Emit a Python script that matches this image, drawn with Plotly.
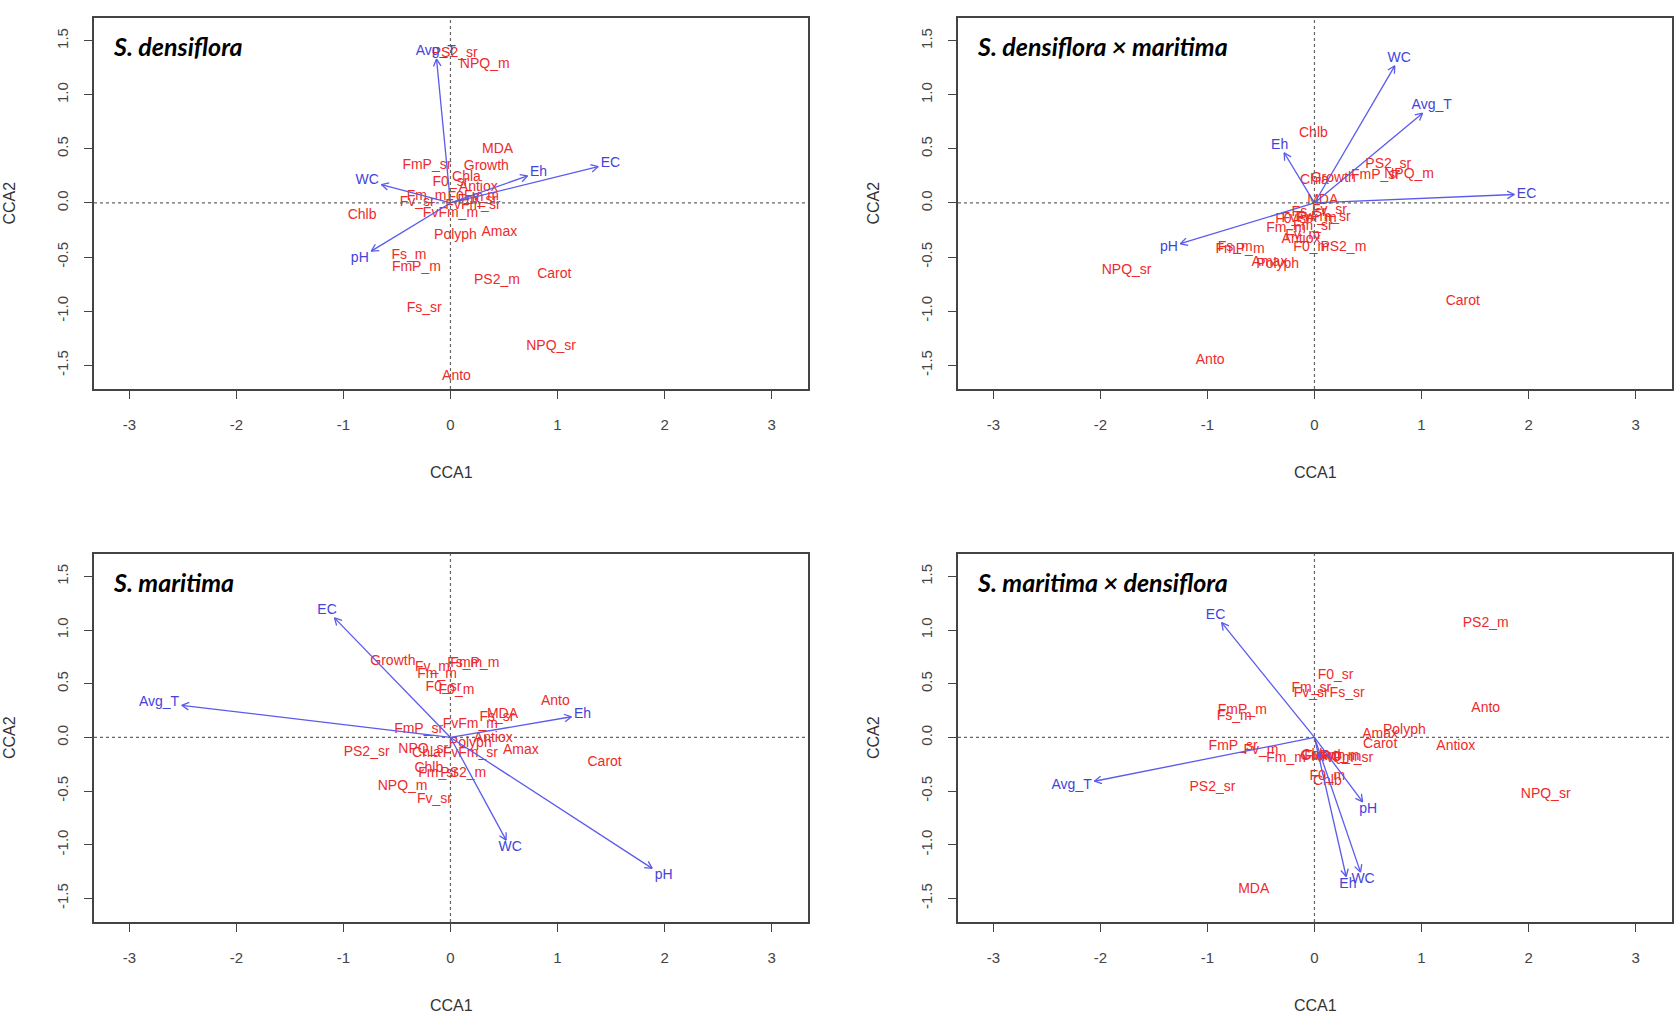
import numpy as np
import plotly.graph_objects as go

# ---------------- data ----------------
VARS = ["Growth", "Amax", "Chla", "Chlb", "Carot", "Anto", "Polyph", "Antiox", "MDA",
        "F0_m", "F0_sr", "Fm_m", "Fm_sr", "Fs_m", "Fs_sr", "Fv_m", "Fv_sr",
        "FmP_m", "FmP_sr", "FvFm_m", "FvFm_sr", "PS2_m", "PS2_sr", "NPQ_m", "NPQ_sr"]
ENV = ["Avg_T", "EC", "Eh", "WC", "pH"]

PANEL_TITLES = ["S. densiflora", "S. densiflora × maritima",
                "S. maritima", "S. maritima × densiflora"]

X_TICKS = [-3, -2, -1, 0, 1, 2, 3]
Y_TICKS = [-1.5, -1.0, -0.5, 0.0, 0.5, 1.0, 1.5]

# S. densiflora
dens_sp_x = [0.335, 0.456, 0.15, -0.826, 0.97, 0.056, 0.047, 0.26, 0.44,
             0.14, 0.0, -0.224, 0.25, -0.387, -0.245, 0.29, -0.31,
             -0.318, -0.22, 0.0, 0.21, 0.434, 0.04, 0.32, 0.94]
dens_sp_y = [0.34, -0.274, 0.24, -0.118, -0.657, -1.60, -0.305, 0.146, 0.49,
             0.047, 0.19, 0.06, 0.02, -0.49, -0.975, 0.06, 0.0,
             -0.595, 0.35, -0.10, -0.025, -0.717, 1.38, 1.28, -1.33]
dens_env_x = [-0.13, 1.38, 0.72, -0.645, -0.74]
dens_env_y = [1.33, 0.336, 0.25, 0.17, -0.445]

# S. densiflora x maritima
dxm_sp_x = [0.176, -0.42, 0.0, -0.01, 1.386, -0.974, -0.343, -0.125, 0.077,
            -0.03, -0.2, -0.265, -0.016, -0.74, -0.05, -0.11, 0.14,
            -0.695, 0.57, -0.05, 0.08, 0.27, 0.69, 0.884, -1.755]
dxm_sp_y = [0.224, -0.555, 0.21, 0.64, -0.913, -1.458, -0.57, -0.34, 0.022,
            -0.41, -0.15, -0.24, -0.22, -0.415, -0.085, -0.30, -0.068,
            -0.43, 0.255, -0.14, -0.13, -0.414, 0.355, 0.265, -0.626]
dxm_env_x = [1.01, 1.867, -0.283, 0.75, -1.253]
dxm_env_y = [0.83, 0.078, 0.464, 1.268, -0.377]

# S. maritima
mar_sp_x = [-0.538, 0.658, -0.224, -0.202, 1.44, 0.98, 0.185, 0.40, 0.486,
            0.056, -0.065, -0.125, -0.116, 0.133, 0.434, -0.168, -0.15,
            0.228, -0.297, 0.185, 0.185, 0.12, -0.783, -0.447, -0.254]
mar_sp_y = [0.71, -0.118, -0.15, -0.287, -0.234, 0.336, -0.056, -0.01, 0.218,
            0.442, 0.467, 0.586, -0.336, 0.69, 0.187, 0.648, -0.576,
            0.685, 0.072, 0.118, -0.146, -0.336, -0.14, -0.461, -0.109]
mar_env_x = [-2.51, -1.084, 1.13, 0.52, 1.884]
mar_env_y = [0.30, 1.115, 0.193, -0.957, -1.22]

# S. maritima x densiflora
mxd_sp_x = [0.077, 0.614, 0.013, 0.12, 0.614, 1.6, 0.84, 1.32, -0.567,
            0.12, 0.197, -0.266, -0.03, -0.75, 0.305, -0.5, -0.03,
            -0.674, -0.76, 0.163, 0.29, 1.6, -0.953, 0.206, 2.16]
mxd_sp_y = [-0.174, 0.028, -0.165, -0.41, -0.07, 0.27, 0.068, -0.08, -1.42,
            -0.36, 0.576, -0.2, 0.458, 0.2, 0.41, -0.118, 0.41,
            0.255, -0.087, -0.18, -0.196, 1.06, -0.467, -0.187, -0.53]
mxd_env_x = [-2.056, -0.867, 0.296, 0.43, 0.45]
mxd_env_y = [-0.408, 1.07, -1.296, -1.255, -0.60]

PANELS = [
    (dens_sp_x, dens_sp_y, dens_env_x, dens_env_y),
    (dxm_sp_x, dxm_sp_y, dxm_env_x, dxm_env_y),
    (mar_sp_x, mar_sp_y, mar_env_x, mar_env_y),
    (mxd_sp_x, mxd_sp_y, mxd_env_x, mxd_env_y),
]

# ---------------- style / layout ----------------
W, H = 1674, 1034
BOXES = [(94, 808, 18, 389), (958, 1672, 18, 389),
         (94, 808, 554, 922), (958, 1672, 554, 922)]
XR = [-3.33, 3.34]
YR = [-1.72, 1.71]
RED = "#ee2a2a"
BLUE_TXT = "#4343dc"
BLUE_ARR = "#5a5aee"
LAB_FS = 14
FONT = "Liberation Sans, Arial, sans-serif"

CW = {"A": 667, "v": 500, "g": 556, "_": 556, "T": 611, "E": 667, "C": 722,
      "h": 556, "W": 944, "p": 556, "H": 722}


def text_w(s, fs):
    return sum(CW.get(c, 556) for c in s) / 1000.0 * fs


def arrow_label_xy(xs, ys, labels, ppu_x, ppu_y):
    """vegan-style placement of arrow labels just beyond the arrow tip."""
    out_x, out_y = [], []
    for x, y, lab in zip(xs, ys, labels):
        w = text_w(lab, LAB_FS) / ppu_x
        h = 0.72 * LAB_FS / ppu_y
        offx = np.sign(x) * (w / 2 + h / 4)
        offy = 0.75 * h * np.sign(y)
        b = y / x if x != 0 else np.inf
        move = offy / b if b != 0 else np.inf
        if np.isfinite(move) and abs(move) <= abs(offx):
            offx = move
        else:
            offy = b * offx
        out_x.append(x + offx)
        out_y.append(y + offy)
    return out_x, out_y


fig = go.Figure()
layout = dict(width=W, height=H, margin=dict(l=0, r=0, t=0, b=0),
              paper_bgcolor="white", plot_bgcolor="white",
              showlegend=False, hovermode=False)
shapes, annotations = [], []

for i, ((sx, sy, ex, ey), (x0, x1, y0, y1)) in enumerate(zip(PANELS, BOXES)):
    k = "" if i == 0 else str(i + 1)
    xa, ya = "x" + k, "y" + k
    ppu_x = (x1 - x0) / (XR[1] - XR[0])
    ppu_y = (y1 - y0) / (YR[1] - YR[0])

    layout["xaxis" + k] = dict(
        domain=[x0 / W, x1 / W], range=XR, anchor=ya,
        tickvals=X_TICKS, ticktext=[str(v) for v in X_TICKS],
        showgrid=False, zeroline=False, showline=True, mirror=True,
        linecolor="#444", linewidth=1.5, ticks="outside", ticklen=8,
        tickcolor="#444", tickwidth=1.2, ticklabelstandoff=13,
        tickfont=dict(family=FONT, size=15, color="#444"))
    layout["yaxis" + k] = dict(
        domain=[1 - y1 / H, 1 - y0 / H], range=YR, anchor=xa,
        tickvals=Y_TICKS, ticktext=["%.1f" % v for v in Y_TICKS],
        tickangle=-90,
        showgrid=False, zeroline=False, showline=True, mirror=True,
        linecolor="#444", linewidth=1.5, ticks="outside", ticklen=8,
        tickcolor="#444", tickwidth=1.2, ticklabelstandoff=10,
        tickfont=dict(family=FONT, size=15, color="#444"))

    # dotted zero lines
    shapes.append(dict(type="line", xref=xa, yref=ya, x0=XR[0], x1=XR[1], y0=0, y1=0,
                       line=dict(color="#666", width=1.2, dash="dot")))
    shapes.append(dict(type="line", xref=xa, yref=ya, x0=0, x1=0, y0=YR[0], y1=YR[1],
                       line=dict(color="#666", width=1.2, dash="dot")))

    # species labels
    fig.add_trace(go.Scatter(x=sx, y=sy, text=VARS, mode="text", xaxis=xa, yaxis=ya,
                             textposition="middle center",
                             textfont=dict(family=FONT, size=LAB_FS, color=RED),
                             hoverinfo="skip"))

    # arrows (shaft + open head)
    ax_, ay_ = [], []
    L_px, ang = 8.0, np.deg2rad(28)
    for x, y in zip(ex, ey):
        ax_ += [0, x, None]
        ay_ += [0, y, None]
        dx, dy = x * ppu_x, y * ppu_y
        n = np.hypot(dx, dy)
        ux, uy = dx / n, dy / n
        for s in (ang, -ang):
            rx = ux * np.cos(s) - uy * np.sin(s)
            ry = ux * np.sin(s) + uy * np.cos(s)
            ax_ += [x, x - L_px * rx / ppu_x, None]
            ay_ += [y, y - L_px * ry / ppu_y, None]
    fig.add_trace(go.Scatter(x=ax_, y=ay_, mode="lines", xaxis=xa, yaxis=ya,
                             line=dict(color=BLUE_ARR, width=1.3), hoverinfo="skip"))

    lx, ly = arrow_label_xy(ex, ey, ENV, ppu_x, ppu_y)
    fig.add_trace(go.Scatter(x=lx, y=ly, text=ENV, mode="text", xaxis=xa, yaxis=ya,
                             textposition="middle center",
                             textfont=dict(family=FONT, size=LAB_FS, color=BLUE_TXT),
                             hoverinfo="skip"))

    # panel title
    annotations.append(dict(xref="paper", yref="paper", x=(x0 + 17) / W, y=1 - (y0 + 28) / H,
                            xanchor="left", yanchor="middle", showarrow=False,
                            text="<b><i>%s</i></b>" % PANEL_TITLES[i],
                            font=dict(family="Lato, sans-serif", size=25, color="black")))
    # axis titles
    annotations.append(dict(xref="paper", yref="paper", x=(x0 + x1) / 2 / W,
                            y=1 - (y1 + 83) / H, xanchor="center", yanchor="middle",
                            showarrow=False, text="CCA1",
                            font=dict(family=FONT, size=16, color="#333")))
    annotations.append(dict(xref="paper", yref="paper", x=(x0 - 85) / W,
                            y=1 - (y0 + y1) / 2 / H, xanchor="center", yanchor="middle",
                            showarrow=False, text="CCA2", textangle=-90,
                            font=dict(family=FONT, size=16, color="#333")))

layout["shapes"] = shapes
layout["annotations"] = annotations
fig.update_layout(**layout)
fig.write_html("out.html")
